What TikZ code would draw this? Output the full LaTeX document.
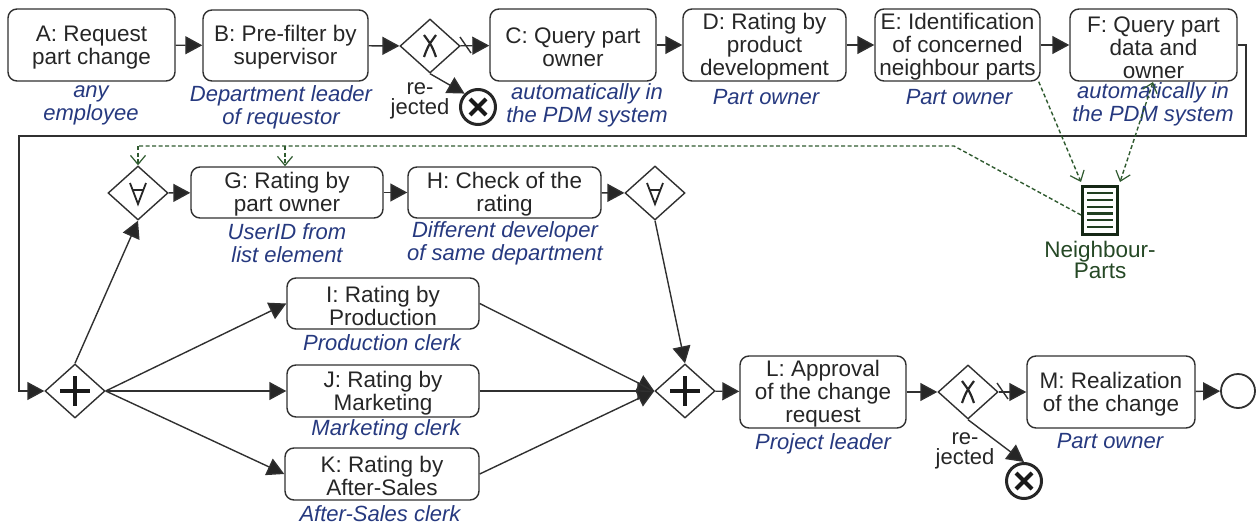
\documentclass[tikz,border=0pt]{standalone}
\usepackage{fontspec}
\setmainfont{Liberation Sans}
\usetikzlibrary{arrows.meta,shapes.geometric,calc}
\definecolor{lbl}{HTML}{26397F}
\definecolor{dgreen}{HTML}{2F5A2F}
\definecolor{ln}{HTML}{303030}
\tikzset{
 x=1pt,y=-1pt,
 flow/.style={draw=ln,line width=1.4pt,-{Triangle[length=17pt,width=18pt,fill=black!85]}},
 barb/.tip={Straight Barb[length=9pt,width=15pt,line width=1.2pt,sep=0pt]},
 data/.style={draw=dgreen,line width=1.4pt,dash pattern=on 4pt off 2.5pt,-barb},
 task/.style={draw=ln,line width=1.4pt,rounded corners=9pt,align=center,inner sep=0pt,font=\fontsize{22.5}{23}\selectfont,text=black!85},
 gate/.style={diamond,draw=ln,line width=1.4pt,minimum width=60pt,minimum height=54pt,inner sep=0pt,aspect=1.1},
 role/.style={align=center,inner sep=0pt,text=lbl,font=\fontsize{22}{23}\selectfont\itshape},
 plain/.style={align=center,inner sep=0pt,text=black!85,font=\fontsize{22}{20.5}\selectfont},
 endx/.style={circle,draw=black!85,line width=3pt,minimum size=35pt,inner sep=0pt},
}
\newcommand{\tasknode}[7]{\node[task,minimum width=#4pt-#3pt,minimum height=#6pt-#5pt] (#1) at ({(#3+#4)/2},{(#5+#6)/2}) {\rule{0pt}{20.5pt}#7};}
\newcommand{\xmark}[1]{\draw[line width=2.2pt,draw=black!85] ($(#1)+(-6,-11)$) .. controls ($(#1)+(2,0)$) .. ($(#1)+(6,11)$) ($(#1)+(6,-11)$) .. controls ($(#1)+(-2,0)$) .. ($(#1)+(-6,11)$);}
\newcommand{\plusmark}[1]{\draw[line width=3.4pt,draw=black!90] ($(#1)+(-15,0)$) -- ($(#1)+(15,0)$) ($(#1)+(0,-15)$) -- ($(#1)+(0,15)$);}
\newcommand{\allmark}[1]{\draw[line width=1.8pt,draw=black!85] ($(#1)+(-8,-10)$) -- ($(#1)+(0,11)$) -- ($(#1)+(8,-10)$) ($(#1)+(-5,-3)$) -- ($(#1)+(5,-3)$);}
\newcommand{\crossmark}[1]{\draw[line width=4pt,draw=black!90] ($(#1)+(-8,-8)$) -- ($(#1)+(8,8)$) ($(#1)+(8,-8)$) -- ($(#1)+(-8,8)$);}
\begin{document}
\begin{tikzpicture}
\useasboundingbox (0,0) rectangle (1259,525);
\tasknode{A}{}{8}{175}{9}{81}{A: Request\\part change}
\tasknode{B}{}{203}{368}{10}{81}{B: Pre-filter by\\supervisor}
\tasknode{C}{}{490}{656}{9}{81}{C: Query part\\owner}
\tasknode{D}{}{683}{846}{9}{81}{D: Rating by\\product\\development}
\tasknode{E}{}{875}{1040}{9}{81}{E: Identification\\of concerned\\neighbour parts}
\tasknode{F}{}{1070}{1237}{9}{81}{F: Query part\\data and\\owner}
\tasknode{G}{}{191}{383}{167}{218}{G: Rating by\\part owner}
\tasknode{H}{}{408}{601}{167}{218}{H: Check of the\\rating}
\tasknode{I}{}{287}{479}{278}{329}{I: Rating by\\Production}
\tasknode{J}{}{287}{479}{365}{417}{J: Rating by\\Marketing}
\tasknode{K}{}{285}{479}{448}{500}{K: Rating by\\After-Sales}
\tasknode{L}{}{740}{906}{356}{428}{L: Approval\\of the change\\request}
\tasknode{M}{}{1027}{1195}{356}{428}{M: Realization\\of the change}
\node[gate] (X1) at (430,46) {};
\node[gate] (X2) at (968,392) {};
\node[gate] (P1) at (75,391) {};
\node[gate] (P2) at (685,391) {};
\node[gate] (U1) at (138,193) {};
\node[gate] (U2) at (655,193) {};
\xmark{X1}\xmark{X2}\plusmark{P1}\plusmark{P2}\allmark{U1}\allmark{U2}
\node[endx] (E1) at (478,107) {};
\node[endx] (E2) at (1024,481) {};
\crossmark{E1}\crossmark{E2}
\node[circle,draw=ln,line width=1.8pt,minimum size=34pt,inner sep=0pt] (End) at (1238,391) {};
\node[draw=dgreen!45!black,line width=3pt,minimum width=35pt,minimum height=48pt,inner sep=0pt] (Doc) at (1100,210.5) {};
\foreach \yy in {193,200,207,213.5,220,227}
  \draw[line width=2.4pt,draw=dgreen!70!black] (1087,\yy) -- (1113,\yy);
% roles
\node[role] (ra) at (91,105) {any\\employee};
\node[role] (rb) at (281,107) {Department leader\\of requestor};
\node[role] (rc) at (587,105) {automatically in\\the PDM system};
\node[role] (rd) at (766,97) {Part owner};
\node[role] (re) at (959,97) {Part owner};
\node[role] (rf) at (1153,104) {automatically in\\the PDM system};
\node[role] (rg) at (287,243) {UserID from\\list element};
\node[role] (rh) at (505,243) {Different developer\\of same department};
\node[role] (ri) at (382,343) {Production clerk};
\node[role] (rj) at (386,430) {Marketing clerk};
\node[role] (rk) at (380,514) {After-Sales clerk};
\node[role] (rl) at (823,444) {Project leader};
\node[role] (rm) at (1110,441) {Part owner};
\node[plain] (t1) at (420,101) {re-\\jected};
\node[plain] (t2) at (965,451) {re-\\jected};
\node[align=center,inner sep=0pt,text=dgreen!80!black,font=\fontsize{22.5}{21}\selectfont] (tn) at (1100,260) {Neighbour-\\Parts};
% flows
\draw[flow] (A) -- (B);
\draw[flow] (B) -- (X1);
\draw[flow] (X1) -- (C);
\draw[flow] (C) -- (D);
\draw[flow] (D) -- (E);
\draw[flow] (E) -- (F);
\coordinate (c1) at (1246,45); \coordinate (c2) at (1246,136); \coordinate (c3) at (19,136); \coordinate (c4) at (19,391);
\draw[flow] (F.east|-c1) -- (c1) -- (c2) -- (c3) -- (c4) -- (P1);
\draw[flow] (X1.south) -- (E1.north west);
\draw[flow] (P1.north) -- (U1.south);
\draw[flow] (U1) -- (G);
\draw[flow] (G) -- (H);
\draw[flow] (H) -- (U2);
\draw[flow] (P1.east) -- (I.west);
\draw[flow] (P1.east) -- (J.west|-P1.east);
\draw[flow] (P1.east) -- (K.west);
\draw[flow] (I.east) -- (P2.west);
\draw[flow] (J.east|-P2.west) -- (P2.west);
\draw[flow] (K.east) -- (P2.west);
\draw[flow] (U2.south) -- (P2.north);
\draw[flow] (P2) -- (L);
\draw[flow] (L) -- (X2);
\draw[flow] (X2) -- (M.west|-X2);
\draw[flow] (M) -- (End);
\draw[flow] (X2.south) -- (E2.north);
% default-flow slashes
\draw[line width=1.4pt,draw=ln] (460,37) -- (471,53);
\draw[line width=1.4pt,draw=ln] (997,383) -- (1008,399);
% data
\coordinate (d1) at (954,146); \coordinate (d2) at (138,146); \coordinate (d3) at (285,146);
\coordinate (dE) at (1081,182); \coordinate (dF) at (1120,182); \coordinate (dS) at (1153,82);
\draw[data] (E.south east) ++(-2,0) -- (dE);
\draw[data,barb-barb] (dS) -- (dF);
\draw[draw=dgreen,line width=1.4pt,dash pattern=on 4pt off 2.5pt] ($(Doc.west)+(0,4.5)$) -- (d1) -- (d2);
\draw[data] (d2) -- (U1.north);
\draw[data] (d3) -- (G.north-|d3);
\end{tikzpicture}
\end{document}
